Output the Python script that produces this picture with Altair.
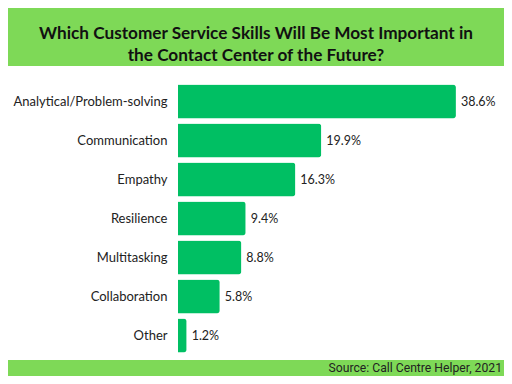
import altair as alt
import pandas as pd

skills = ["Analytical/Problem-solving", "Communication", "Empathy", "Resilience",
          "Multitasking", "Collaboration", "Other"]
values = [38.6, 19.9, 16.3, 9.4, 8.8, 5.8, 1.2]
title_text = "Which Customer Service Skills Will Be Most Important in\nthe Contact Center of the Future?"
source_text = "Source: Call Centre Helper, 2021"

df = pd.DataFrame({"skill": skills, "value": values})
df["label"] = [f"{v:.1f}%" for v in values]

TOTAL_W, TOTAL_H = 496, 368
W, H = 288, 273
L, T = 170, 74
R = TOTAL_W - L - W
B = TOTAL_H - T - H

one = pd.DataFrame({"k": [0]})

header = alt.Chart(one).mark_rect(color="#7ED957").encode(
    x=alt.value(-L), x2=alt.value(TOTAL_W - L), y=alt.value(-T), y2=alt.value(58 - T)
)
footer = alt.Chart(one).mark_rect(color="#7ED957").encode(
    x=alt.value(-L), x2=alt.value(TOTAL_W - L), y=alt.value(352 - T), y2=alt.value(TOTAL_H - T)
)
title = alt.Chart(one).mark_text(
    text=title_text, lineBreak="\n", lineHeight=22, font="Lato", fontWeight="bold",
    fontSize=17.2, color="#111", align="center", baseline="middle"
).encode(x=alt.value(248 - L), y=alt.value(25.6 - T))
source = alt.Chart(one).mark_text(
    text=source_text, font="Roboto", fontSize=12.2, color="#222",
    align="right", baseline="middle"
).encode(x=alt.value(494 - L), y=alt.value(360 - T))

y = alt.Y("skill:N", sort=skills,
          scale=alt.Scale(paddingInner=0.128, paddingOuter=0.064),
          axis=alt.Axis(title=None, domain=False, ticks=False, labelPadding=11,
                        labelFont="Lato", labelFontSize=13, labelColor="#222"))
x = alt.X("value:Q", scale=alt.Scale(domain=[0, 40]), axis=None)

base = alt.Chart(df).encode(y=y, x=x)
bars = base.mark_bar(color="#00BF63", cornerRadiusEnd=3)
labels = base.mark_text(align="left", dx=5, font="Lato", fontSize=12.5, color="#222").encode(
    text="label:N")

chart = alt.layer(header, footer, title, source, bars, labels).properties(
    width=W, height=H,
    autosize=alt.AutoSizeParams(type="none"),
    padding={"left": L, "top": T, "right": R, "bottom": B},
    background="white",
).configure_view(stroke=None)

chart.save("out.html", embed_options={"renderer": "svg", "actions": False})
